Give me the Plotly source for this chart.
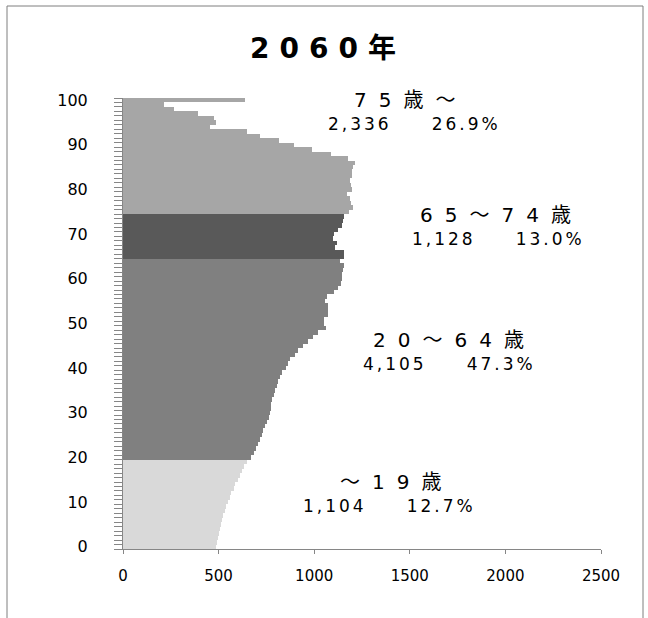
import plotly.graph_objects as go

# ---- data (population by single year of age, thousands) ----
ages_0_19 = list(range(0, 20))
pop_0_19 = [486, 491, 495, 500, 505, 511, 516, 523, 532, 539,
            547, 558, 567, 579, 588, 600, 611, 623, 635, 649]

ages_20_64 = list(range(20, 65))
pop_20_64 = [672, 684, 698, 705, 716, 725, 732, 741, 755, 763,
             767, 772, 776, 781, 790, 793, 804, 811, 821, 834,
             851, 863, 874, 898, 916, 939, 965, 995, 1018, 1060,
             1049, 1049, 1070, 1074, 1074, 1056, 1067, 1102, 1123, 1140,
             1144, 1144, 1150, 1155, 1137]

ages_65_74 = list(range(65, 75))
pop_65_74 = [1155, 1155, 1110, 1119, 1097, 1105, 1123, 1144, 1150, 1155]

ages_75_up = list(range(75, 101))
pop_75_up = [1184, 1205, 1190, 1186, 1172, 1197, 1195, 1185, 1200, 1197,
             1205, 1211, 1176, 1088, 991, 895, 816, 719, 649, 456,
             486, 478, 393, 267, 214, 640]

group_labels = ["～19歳", "20～64歳", "65～74歳", "75歳～"]
group_totals = ["1,104", "4,105", "1,128", "2,336"]
group_shares = ["12.7%", "47.3%", "13.0%", "26.9%"]
group_colors = ["#d9d9d9", "#808080", "#595959", "#a6a6a6"]

x_ticks = [0, 500, 1000, 1500, 2000, 2500]
y_ticks = list(range(0, 101, 10))
title_text = "2060年"

# label anchor positions (axis coordinates)
label_pos_1 = [(1433, 14.5), (1736, 46.3), (1977, 74.3), (1506, 100.0)]
label_pos_2 = [(1395, 9.1), (1705, 40.9), (1962, 68.9), (1522, 94.7)]

groups = [(ages_0_19, pop_0_19), (ages_20_64, pop_20_64),
          (ages_65_74, pop_65_74), (ages_75_up, pop_75_up)]

fig = go.Figure()
for (ages, vals), color, name in zip(groups, group_colors, group_labels):
    fig.add_trace(go.Bar(
        y=ages, x=vals, orientation="h", width=1,
        marker=dict(color=color, line=dict(width=0)),
        name=name, showlegend=False,
    ))

AX = "#868686"
FONT_NUM = "DejaVu Sans, Noto Sans CJK JP, sans-serif"

fig.update_layout(
    width=648, height=618,
    margin=dict(l=123, r=47, t=98, b=69),
    paper_bgcolor="white", plot_bgcolor="white",
    barmode="overlay", bargap=0, showlegend=False,
    title=dict(
        text='<span style="letter-spacing:10px">' + title_text + "</span>",
        x=328 / 648, xref="container", xanchor="center",
        y=1 - 48 / 618, yref="container", yanchor="middle",
        font=dict(family=FONT_NUM, size=28, color="black", weight="bold"),
    ),
    xaxis=dict(
        range=[0, 2500], tickvals=x_ticks, ticks="outside", ticklen=4,
        tickcolor=AX, showline=True, linecolor=AX, linewidth=1,
        showgrid=False, zeroline=False, ticklabelstandoff=9,
        tickfont=dict(family=FONT_NUM, size=15, color="black"),
    ),
    yaxis=dict(
        range=[-0.5, 100.5], tickvals=y_ticks, ticks="",
        showline=True, linecolor=AX, linewidth=1,
        showgrid=False, zeroline=False, ticklabelstandoff=31,
        minor=dict(tick0=-0.5, dtick=1, ticks="outside", ticklen=8,
                   tickcolor=AX, showgrid=False),
        tickfont=dict(family=FONT_NUM, size=16, color="black"),
    ),
)

for lab, tot, sh, p1, p2 in zip(group_labels, group_totals, group_shares,
                                label_pos_1, label_pos_2):
    fig.add_annotation(
        x=p1[0], y=p1[1], xref="x", yref="y", showarrow=False,
        text='<span style="letter-spacing:12px">' + lab + "</span>",
        font=dict(family=FONT_NUM, size=20, color="black"),
        xanchor="center", yanchor="middle",
    )
    fig.add_annotation(
        x=p2[0], y=p2[1], xref="x", yref="y", showarrow=False,
        text='<span style="letter-spacing:3px">' + tot + "\u3000\u3000" + sh + "</span>",
        font=dict(family=FONT_NUM, size=17, color="black"),
        xanchor="center", yanchor="middle",
    )

# outer chart frame
fig.add_shape(type="rect", xref="paper", yref="paper",
              x0=(7 - 123) / 478, x1=(643 - 123) / 478,
              y0=(549 - 630) / 451, y1=(549 - 6) / 451,
              line=dict(color="#7f7f7f", width=1), fillcolor="rgba(0,0,0,0)",
              layer="below")

fig.write_html("out.html", config={"displayModeBar": False},
               post_script="document.body.style.margin='0';document.body.style.padding='0';")
